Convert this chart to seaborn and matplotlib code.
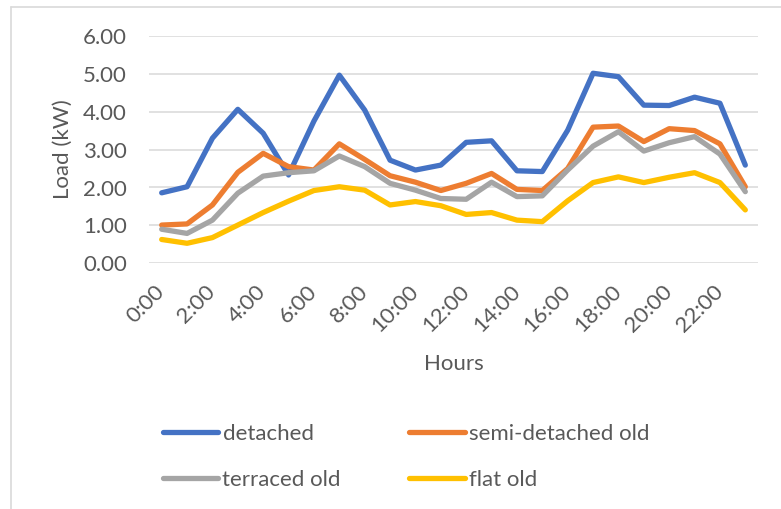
import numpy as np
import pandas as pd
import matplotlib
matplotlib.use("Agg")
import matplotlib.pyplot as plt
from matplotlib.lines import Line2D
import seaborn as sns

# Hourly average load per dwelling type (kW)
hours = [f"{h}:00" for h in range(24)]
detached = [1.86, 2.02, 3.30, 4.06, 3.43, 2.33, 3.75, 4.96, 4.04, 2.72, 2.46, 2.59,
            3.19, 3.23, 2.44, 2.42, 3.51, 5.01, 4.92, 4.17, 4.16, 4.38, 4.22, 2.59]
semi_detached_old = [1.01, 1.04, 1.54, 2.40, 2.90, 2.55, 2.46, 3.15, 2.74, 2.31, 2.14, 1.92,
                     2.11, 2.37, 1.95, 1.92, 2.50, 3.59, 3.62, 3.21, 3.55, 3.50, 3.15, 2.02]
terraced_old = [0.90, 0.79, 1.14, 1.85, 2.30, 2.39, 2.44, 2.83, 2.55, 2.11, 1.93, 1.71,
                1.69, 2.14, 1.76, 1.78, 2.46, 3.09, 3.47, 2.96, 3.18, 3.34, 2.88, 1.89]
flat_old = [0.63, 0.53, 0.68, 1.01, 1.34, 1.64, 1.92, 2.02, 1.93, 1.54, 1.63, 1.52,
            1.29, 1.34, 1.14, 1.10, 1.65, 2.13, 2.28, 2.13, 2.27, 2.39, 2.13, 1.41]
series_names = ["detached", "semi-detached old", "terraced old", "flat old"]
y_ticks = [0, 1, 2, 3, 4, 5, 6]

series_values = [detached, semi_detached_old, terraced_old, flat_old]
df = pd.DataFrame({
    "hour_idx": np.tile(np.arange(len(hours)), len(series_names)),
    "load": np.concatenate(series_values),
    "type": np.repeat(series_names, len(hours)),
})

colors = ["#4472C4", "#ED7D31", "#A5A5A5", "#FFC000"]
text_color = "#595959"

sns.set_theme(style="white")
plt.rcParams["font.family"] = ["Lato", "DejaVu Sans"]
fs = 16

W, H = 781, 509
fig = plt.figure(figsize=(W / 100, H / 100), dpi=100)
left, right, top, bottom = 149, 758, 35.7, 263.4
ax = fig.add_axes([left / W, 1 - bottom / H, (right - left) / W, (bottom - top) / H])

sns.lineplot(data=df, x="hour_idx", y="load", hue="type", hue_order=series_names,
             palette=colors, linewidth=3.8, ax=ax, legend=False, sort=False)

ax.set_xlim(-0.5, len(hours) - 0.5)
ax.set_ylim(0, 6)
ax.set_yticks(y_ticks)
ax.set_yticklabels([f"{v:.2f}" for v in y_ticks], fontsize=fs, color=text_color)
ax.yaxis.grid(True, color="#D9D9D9", linewidth=1.1)
ax.set_axisbelow(True)

xt = list(range(0, len(hours), 2))
ax.set_xticks(xt)
ax.set_xticklabels([hours[i] for i in xt], rotation=45, ha="right", va="center",
                   rotation_mode="anchor", fontsize=fs, color=text_color)
ax.tick_params(axis="x", length=0, pad=18)
ax.tick_params(axis="y", length=0, pad=16)
for s in ax.spines.values():
    s.set_visible(False)

ax.set_ylabel("Load (kW)", fontsize=fs, color=text_color)
ax.yaxis.set_label_coords((62.5 - left) / (right - left), 0.5)
ax.yaxis.label.set_va("center")
ax.set_xlabel("Hours", fontsize=fs, color=text_color)
ax.xaxis.set_label_coords(0.5, (bottom - 364) / (bottom - top))
ax.xaxis.label.set_va("center")

# Legend laid out row by row: two entries per row
handles = [Line2D([], [], color=c, linewidth=3.8, solid_capstyle="round") for c in colors]
order = [0, 2, 1, 3]
fig.legend([handles[i] for i in order], [series_names[i] for i in order],
           ncol=2, loc="upper left", bbox_to_anchor=(162.5 / W, 1 - 424 / H),
           frameon=False, fontsize=fs, labelcolor=text_color,
           handlelength=2.5, handletextpad=0.2, columnspacing=3.07,
           labelspacing=1.18, borderpad=0, borderaxespad=0)

# Chart area border (left and top edges)
fig.add_artist(Line2D([11 / W, 11 / W], [0, 1 - 7 / H], color="#D9D9D9", linewidth=1.2,
                      transform=fig.transFigure))
fig.add_artist(Line2D([11 / W, 1], [1 - 7 / H, 1 - 7 / H], color="#D9D9D9", linewidth=1.2,
                      transform=fig.transFigure))

fig.savefig("out.png", dpi=100)
